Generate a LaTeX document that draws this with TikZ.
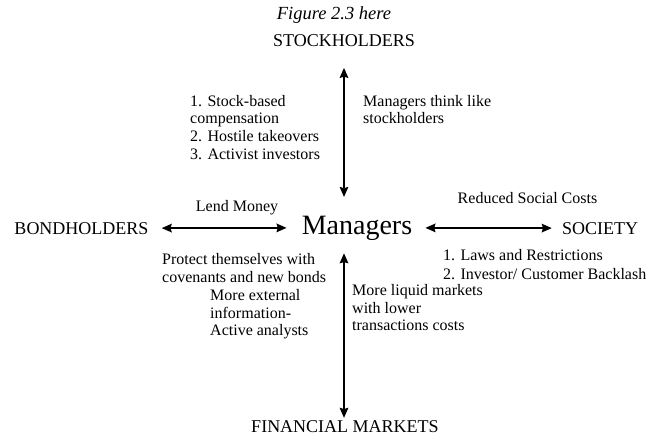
\documentclass[tikz,border=0pt]{standalone}
\usepackage{fontspec}
\setmainfont{Liberation Serif}
\usetikzlibrary{arrows.meta}
\begin{document}
\begin{tikzpicture}[x=1pt,y=-1pt,
  party/.style={inner sep=0pt,anchor=base,font=\fontsize{18}{20}\selectfont},
  note/.style={inner sep=0pt,anchor=north west,align=left,font=\fontsize{16}{17.7}\selectfont},
  tip/.tip={Stealth[length=10pt,width=8.5pt,inset=1.2pt]},
  flow/.style={line width=1.8pt,tip-tip}]
\useasboundingbox[fill=white] (0,0) rectangle (651,442);

% caption and the four parties
\node[party,font=\fontsize{18.5}{20}\selectfont\itshape] (fig) at (334,19) {Figure 2.3 here};
\node[party] (stock) at (344,46.5) {STOCKHOLDERS};
\node[party] (bond) at (81.5,234) {BONDHOLDERS};
\node[party] (soc) at (600,234) {SOCIETY};
\node[party] (fin) at (345,432) {FINANCIAL MARKETS};
\node[party,font=\fontsize{28}{30}\selectfont] (mgr) at (357,234) {Managers};

% links between managers and each party
\draw[flow,shorten <=21pt,shorten >=18.5pt] (stock.south) -- (stock.south |- mgr.north);
\draw[flow,shorten <=13pt,shorten >=2pt] (mgr.south -| stock.south) -- (fin.north -| stock.south);
\draw[flow,shorten <=13pt,shorten >=15pt] (bond.east) -- (mgr.west);
\draw[flow,shorten <=13pt,shorten >=10pt] (mgr.east) -- (soc.west);

% labels along the links
\node[party,font=\fontsize{16}{18}\selectfont] (lend) at (237,211.5) {Lend Money};
\node[party,font=\fontsize{16}{18}\selectfont] (red) at (527.5,203.3) {Reduced Social Costs};
\node[note] (tools) at (190,94.7) {1. Stock-based\\compensation\\2. Hostile takeovers\\3. Activist investors};
\node[note] (think) at (363,94.7) {Managers think like\\stockholders};
\node[note] (prot) at (162,253) {Protect themselves with\\covenants and new bonds};
\node[note,font=\fontsize{16}{19}\selectfont] (laws) at (443,249) {1. Laws and Restrictions\\2. Investor/ Customer Backlash};
\node[note] (ext) at (210,289) {More external\\information-\\Active analysts};
\node[note] (liq) at (352,284) {More liquid markets\\with lower\\transactions costs};
\end{tikzpicture}
\end{document}
